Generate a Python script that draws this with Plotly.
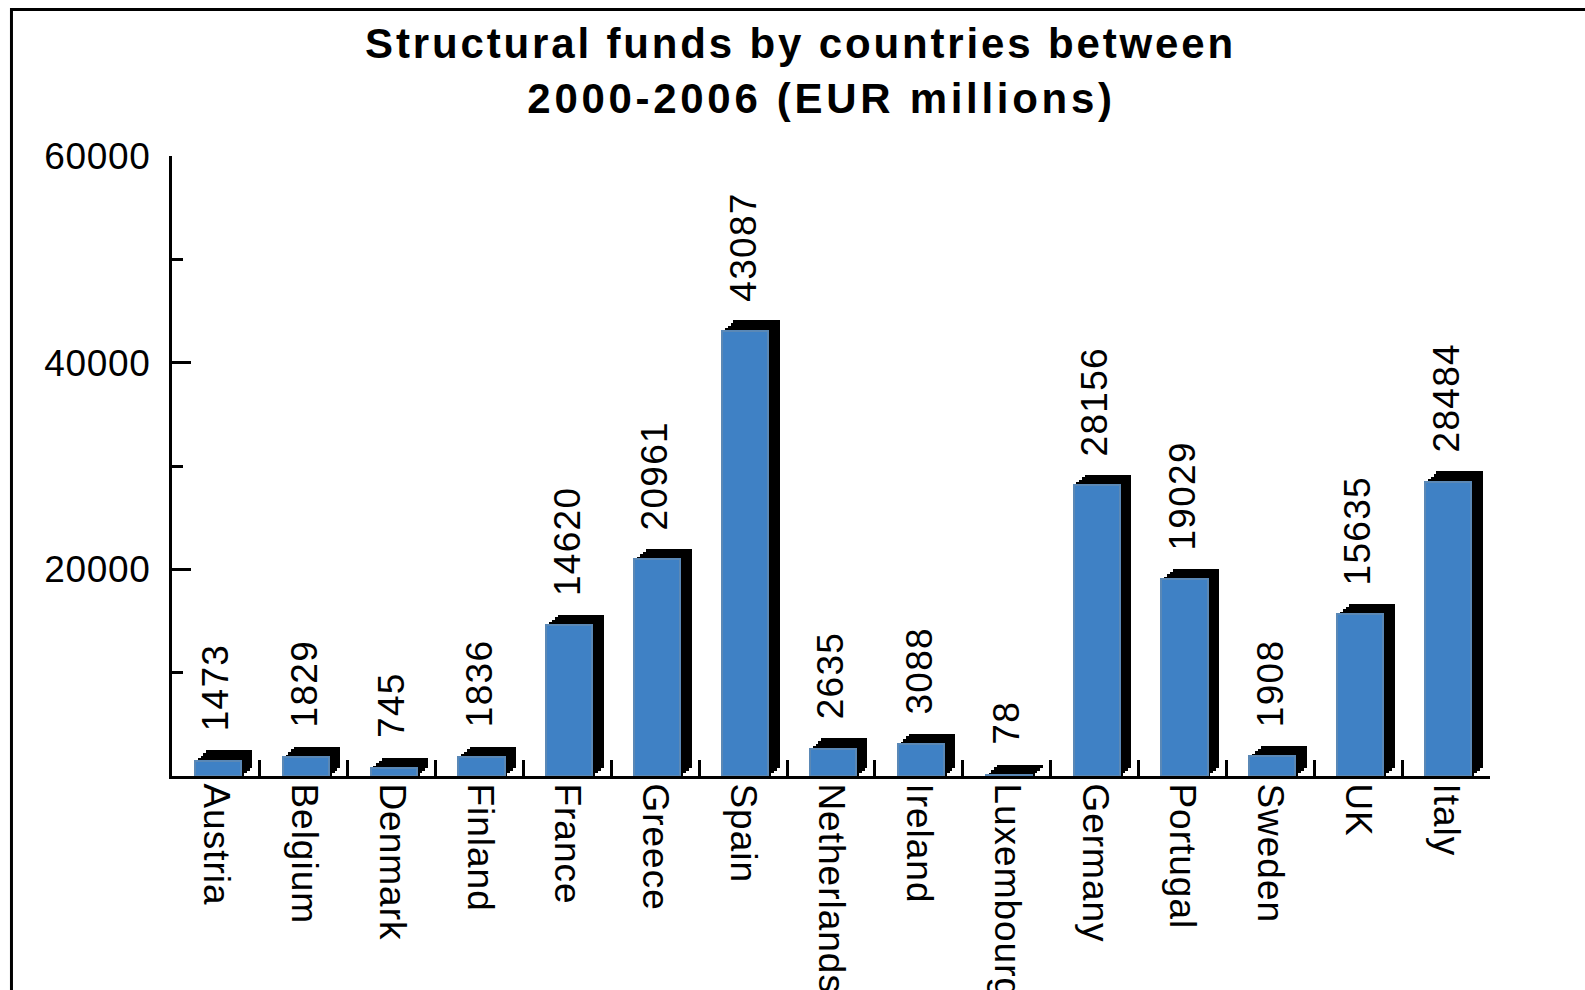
import plotly.graph_objects as go

countries = ["Austria", "Belgium", "Denmark", "Finland", "France", "Greece", "Spain",
             "Netherlands", "Ireland", "Luxembourg", "Germany", "Portugal", "Sweden", "UK", "Italy"]
funds = [1473, 1829, 745, 1836, 14620, 20961, 43087, 2635, 3088, 78, 28156, 19029, 1908, 15635, 28484]
y_tickvals = [20000, 40000, 60000]
y_ticktext = ["20000", "40000", "60000"]
y_minor_tickvals = [10000, 30000, 50000]
title_text = "Structural funds by countries between<br>2000-2006 (EUR millions)"

FONT = "Liberation Sans, Arial, sans-serif"
BLUE = "#3f81c5"
EDGE = "#5a88b6"
BAR_W = 0.525
BAR_OFF = -0.24
DEPTH_X = 0.13      # extrusion depth, in category widths
DEPTH_Y = 1000      # extrusion depth, in value units
STEPS = 4

fig = go.Figure()
# 3D extrusion: stacked offset black blocks approximate the slanted top/right faces
for k in range(1, STEPS + 1):
    fig.add_trace(go.Bar(
        x=countries,
        y=[v + DEPTH_Y / STEPS for v in funds],
        base=(k - 1) * DEPTH_Y / STEPS,
        width=BAR_W, offset=BAR_OFF + k * DEPTH_X / STEPS,
        marker=dict(color="black", line=dict(width=0)),
        hoverinfo="skip", showlegend=False,
    ))
# front face
fig.add_trace(go.Bar(
    x=countries, y=funds,
    width=BAR_W, offset=BAR_OFF,
    marker=dict(color=BLUE, line=dict(color=EDGE, width=2)),
    showlegend=False,
))

for c, v in zip(countries, funds):
    fig.add_annotation(
        x=c, y=v, xref="x", yref="y", text=str(v), showarrow=False,
        textangle=-90, xanchor="center", yanchor="bottom", yshift=30,
        font=dict(family=FONT, size=37, color="black"),
    )

# outer frame (runs off the right and bottom edges, as in the original)
fig.add_shape(type="rect", xref="paper", yref="paper",
              x0=-0.1218, x1=1.3, y0=-0.6, y1=1.2363,
              line=dict(color="black", width=3), fillcolor="rgba(0,0,0,0)", layer="above")

fig.update_layout(
    width=1585, height=990,
    margin=dict(l=172, r=95, t=156, b=214, autoexpand=False),
    paper_bgcolor="white", plot_bgcolor="white",
    barmode="overlay", bargap=0,
    title=dict(text=title_text, x=0.5 + 8 / 1585, xanchor="center", xref="container",
               y=1 - 58 / 990, yanchor="top", yref="container",
               font=dict(family=FONT, size=42, color="black", weight="bold")),
    font=dict(family=FONT, color="black"),
    xaxis=dict(type="category", range=[-0.5, 14.5], showline=True, linecolor="black", linewidth=3,
               ticks="inside", tickson="boundaries", ticklen=16, tickwidth=3, tickcolor="black",
               tickangle=90, tickfont=dict(family=FONT, size=37, color="black"),
               showgrid=False, zeroline=False, automargin=False, ticklabelstandoff=-3),
    yaxis=dict(range=[0, 60000], tickvals=y_tickvals, ticktext=y_ticktext,
               showline=True, linecolor="black", linewidth=3,
               ticks="inside", ticklen=19, tickwidth=3, tickcolor="black",
               minor=dict(tickvals=y_minor_tickvals, ticks="inside", ticklen=11,
                          tickwidth=3, tickcolor="black", showgrid=False),
               tickfont=dict(family=FONT, size=37, color="black"),
               showgrid=False, zeroline=False, automargin=False, ticklabelstandoff=11),
)

post = """
document.body.style.margin = '0';
document.documentElement.style.overflow = 'hidden';
var gd = document.getElementById('{plot_id}');
function sp(){
  gd.querySelectorAll('.gtitle').forEach(function(t){t.style.letterSpacing='2.85px';});
  var lines = gd.querySelectorAll('.gtitle tspan.line');
  if (lines.length > 1) { lines[1].style.letterSpacing = '3.7px'; lines[1].setAttribute('dx', '21'); }
  gd.querySelectorAll('.xtick text').forEach(function(t){t.style.letterSpacing='1px';});
  gd.querySelectorAll('.ytick text').forEach(function(t){t.style.letterSpacing='0.7px';});
  gd.querySelectorAll('.annotation-text').forEach(function(t){t.style.letterSpacing='1.3px';});
}
sp();
gd.on('plotly_afterplot', sp);
"""
fig.write_html("out.html", post_script=post, config={"displayModeBar": False})
